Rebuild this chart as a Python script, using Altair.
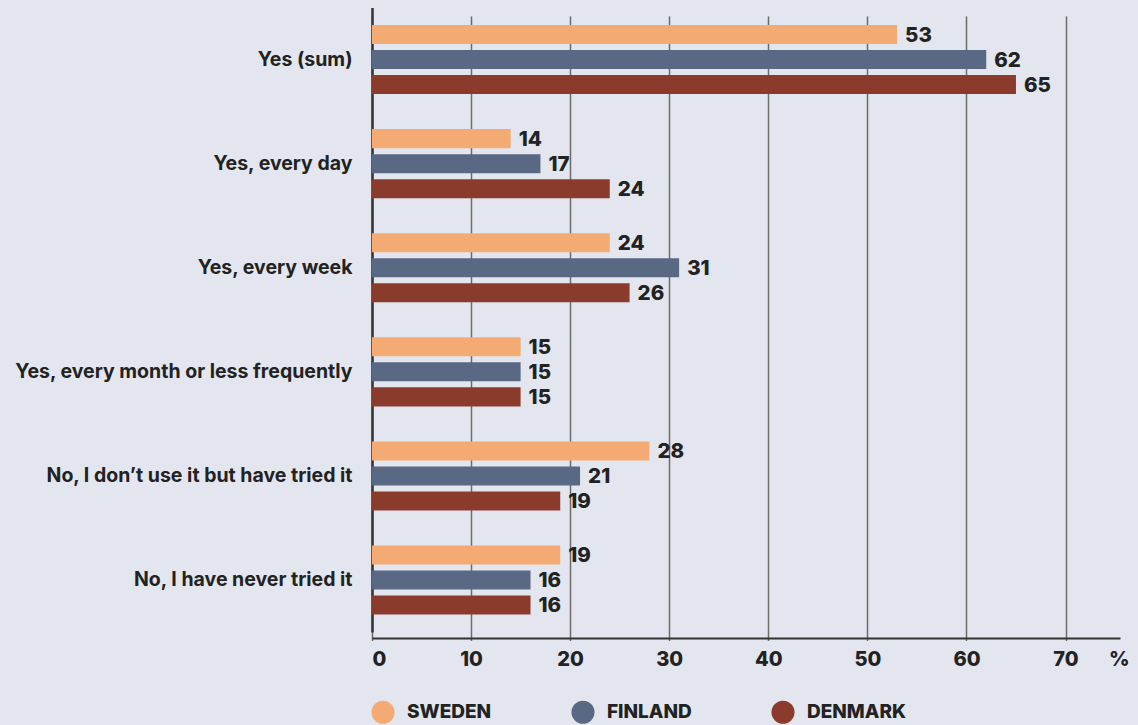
import altair as alt
import pandas as pd

categories = [
    "Yes (sum)",
    "Yes, every day",
    "Yes, every week",
    "Yes, every month or less frequently",
    "No, I don\u2019t use it but have tried it",
    "No, I have never tried it",
]
countries = ["SWEDEN", "FINLAND", "DENMARK"]
sweden = [53, 14, 24, 15, 28, 19]
finland = [62, 17, 31, 15, 21, 16]
denmark = [65, 24, 26, 15, 19, 16]
colors = ["#F4AB73", "#596883", "#8B3B2C"]
x_ticks = [0, 10, 20, 30, 40, 50, 60, 70]

rows = []
for series_name, vals in zip(countries, [sweden, finland, denmark]):
    for cat, v in zip(categories, vals):
        rows.append({"category": cat, "country": series_name, "value": v})
df = pd.DataFrame(rows)

FONT = "Inter"
DARK = "#222222"

y_enc = alt.Y(
    "category:N",
    sort=categories,
    scale=alt.Scale(range=[-2.5, 622.1], paddingInner=0, paddingOuter=0),
    axis=alt.Axis(
        title=None,
        ticks=False,
        labelPadding=20,
        labelFontSize=19.5,
        labelFontWeight=700,
        labelColor=DARK,
        labelFont=FONT,
        labelLimit=500,
        domainColor="#333333",
        domainWidth=2.5,
        grid=False,
    ),
)
yoff_enc = alt.YOffset(
    "country:N",
    sort=countries,
    scale=alt.Scale(paddingInner=0.24, paddingOuter=0.7),
)
x_enc = alt.X(
    "value:Q",
    scale=alt.Scale(domain=[0, 75.5], nice=False, zero=True),
    axis=alt.Axis(
        values=x_ticks,
        title="%",
        titleX=757,
        titleY=27,
        titleAlign="right",
        titleBaseline="alphabetic",
        titleAngle=0,
        titleFontSize=20,
        titleFontWeight=800,
        titleColor=DARK,
        titleFont=FONT,
        ticks=False,
        labelPadding=11,
        labelFontSize=20,
        labelFontWeight=800,
        labelColor=DARK,
        labelFont=FONT,
        grid=True,
        gridColor="#6b6b6b",
        gridWidth=1.5,
        domainColor="#333333",
        domainWidth=2,
    ),
)
color_enc = alt.Color(
    "country:N",
    sort=countries,
    scale=alt.Scale(domain=countries, range=colors),
    legend=alt.Legend(
        title=None,
        orient="none",
        direction="horizontal",
        legendX=-1,
        legendY=690,
        symbolType="circle",
        symbolSize=530,
        symbolStrokeWidth=0,
        symbolOpacity=1,
        labelFontSize=19,
        labelFontWeight=800,
        labelColor=DARK,
        labelFont=FONT,
        labelOffset=12,
        columnPadding=64,
        gridAlign="all",
    ),
)

bars = alt.Chart(df).mark_bar(opacity=1).encode(
    y=y_enc, yOffset=yoff_enc, x=x_enc, color=color_enc
)
labels = alt.Chart(df).mark_text(
    align="left",
    baseline="middle",
    dx=8,
    dy=1,
    fontSize=20.5,
    fontWeight=800,
    font=FONT,
    color=DARK,
).encode(
    y=alt.Y("category:N", sort=categories),
    yOffset=alt.YOffset("country:N", sort=countries),
    x=alt.X("value:Q"),
    text=alt.Text("value:Q"),
)

chart = (
    alt.layer(bars, labels)
    .properties(
        width=748,
        height=628,
        autosize="none",
        padding={"left": 372, "top": 10, "right": 18, "bottom": 87},
        background="#E3E6EE",
    )
    .configure_view(stroke=None)
)

chart.save("out.html", embed_options={"renderer": "svg", "actions": False})
